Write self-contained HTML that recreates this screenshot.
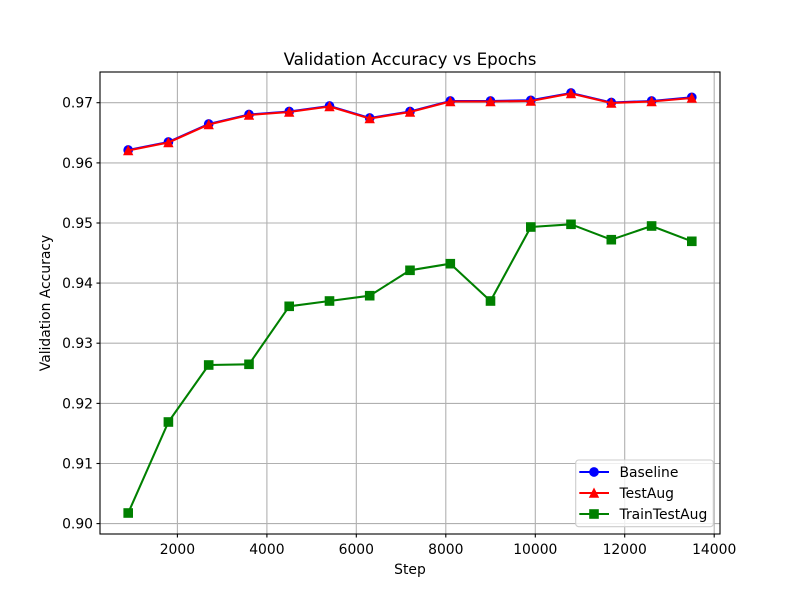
<!DOCTYPE html>
<html><head><meta charset="utf-8"><style>
html,body{margin:0;padding:0;background:#fff;}
svg{display:block;font-family:"DejaVu Sans","Liberation Sans",sans-serif;}
</style></head><body>
<svg width="800" height="600" viewBox="0 0 800 600" xmlns="http://www.w3.org/2000/svg">
<rect width="800" height="600" fill="#fff"/>
<!-- grid -->
<g stroke="#b0b0b0" stroke-width="1.1">
<line x1="177.4" y1="72" x2="177.4" y2="534"/>
<line x1="266.9" y1="72" x2="266.9" y2="534"/>
<line x1="356.3" y1="72" x2="356.3" y2="534"/>
<line x1="445.8" y1="72" x2="445.8" y2="534"/>
<line x1="535.3" y1="72" x2="535.3" y2="534"/>
<line x1="624.7" y1="72" x2="624.7" y2="534"/>
<line x1="714.2" y1="72" x2="714.2" y2="534"/>
<line x1="100" y1="523.6" x2="720" y2="523.6"/>
<line x1="100" y1="463.5" x2="720" y2="463.5"/>
<line x1="100" y1="403.4" x2="720" y2="403.4"/>
<line x1="100" y1="343.2" x2="720" y2="343.2"/>
<line x1="100" y1="283.1" x2="720" y2="283.1"/>
<line x1="100" y1="223" x2="720" y2="223"/>
<line x1="100" y1="162.9" x2="720" y2="162.9"/>
<line x1="100" y1="102.7" x2="720" y2="102.7"/>
</g>
<!-- ticks -->
<g stroke="#000" stroke-width="1.1">
<line x1="177.4" y1="534" x2="177.4" y2="537.5"/>
<line x1="266.9" y1="534" x2="266.9" y2="537.5"/>
<line x1="356.3" y1="534" x2="356.3" y2="537.5"/>
<line x1="445.8" y1="534" x2="445.8" y2="537.5"/>
<line x1="535.3" y1="534" x2="535.3" y2="537.5"/>
<line x1="624.7" y1="534" x2="624.7" y2="537.5"/>
<line x1="714.2" y1="534" x2="714.2" y2="537.5"/>
<line x1="96.5" y1="523.6" x2="100" y2="523.6"/>
<line x1="96.5" y1="463.5" x2="100" y2="463.5"/>
<line x1="96.5" y1="403.4" x2="100" y2="403.4"/>
<line x1="96.5" y1="343.2" x2="100" y2="343.2"/>
<line x1="96.5" y1="283.1" x2="100" y2="283.1"/>
<line x1="96.5" y1="223" x2="100" y2="223"/>
<line x1="96.5" y1="162.9" x2="100" y2="162.9"/>
<line x1="96.5" y1="102.7" x2="100" y2="102.7"/>
</g>
<g font-size="13.9" fill="#000" text-anchor="middle">
<text x="177.4" y="554">2000</text>
<text x="266.9" y="554">4000</text>
<text x="356.3" y="554">6000</text>
<text x="445.8" y="554">8000</text>
<text x="535.3" y="554">10000</text>
<text x="624.7" y="554">12000</text>
<text x="714.2" y="554">14000</text>
</g>
<g font-size="13.9" fill="#000" text-anchor="end">
<text x="93" y="528.6">0.90</text>
<text x="93" y="468.5">0.91</text>
<text x="93" y="408.4">0.92</text>
<text x="93" y="348.2">0.93</text>
<text x="93" y="288.1">0.94</text>
<text x="93" y="228">0.95</text>
<text x="93" y="167.9">0.96</text>
<text x="93" y="107.7">0.97</text>
</g>
<text x="410" y="574" font-size="13.9" text-anchor="middle">Step</text>
<text transform="translate(50,303) rotate(-90)" font-size="13.9" text-anchor="middle">Validation Accuracy</text>
<text x="410" y="65" font-size="16.7" text-anchor="middle">Validation Accuracy vs Epochs</text>

<!-- Baseline -->
<polyline fill="none" stroke="#0000ff" stroke-width="2.08" stroke-linejoin="round" points="128.2,150 168.4,142 208.7,124 249,114.5 289.2,111.5 329.5,106 369.7,118 410,111.5 450.3,101 490.5,101 530.8,100.3 571,93 611.3,102.5 651.6,101 691.8,97.3"/>
<g fill="#0000ff">
<circle cx="128.2" cy="150" r="4.85"/><circle cx="168.4" cy="142" r="4.85"/><circle cx="208.7" cy="124" r="4.85"/><circle cx="249" cy="114.5" r="4.85"/><circle cx="289.2" cy="111.5" r="4.85"/><circle cx="329.5" cy="106" r="4.85"/><circle cx="369.7" cy="118" r="4.85"/><circle cx="410" cy="111.5" r="4.85"/><circle cx="450.3" cy="101" r="4.85"/><circle cx="490.5" cy="101" r="4.85"/><circle cx="530.8" cy="100.3" r="4.85"/><circle cx="571" cy="93" r="4.85"/><circle cx="611.3" cy="102.5" r="4.85"/><circle cx="651.6" cy="101" r="4.85"/><circle cx="691.8" cy="97.3" r="4.85"/>
</g>
<!-- TestAug -->
<polyline fill="none" stroke="#ff0000" stroke-width="2.08" stroke-linejoin="round" points="128.2,150.5 168.4,142.5 208.7,124.5 249,115 289.2,112 329.5,106.5 369.7,118.5 410,112 450.3,101.5 490.5,101.5 530.8,101 571,93.5 611.3,103 651.6,101.5 691.8,98"/>
<g fill="#ff0000" stroke="#ff0000" stroke-width="1.2" stroke-linejoin="miter">
<path d="M128.2,146.3 L132.4,154.7 L124,154.7Z"/>
<path d="M168.4,138.3 L172.6,146.7 L164.2,146.7Z"/>
<path d="M208.7,120.3 L212.9,128.7 L204.5,128.7Z"/>
<path d="M249,110.8 L253.2,119.2 L244.8,119.2Z"/>
<path d="M289.2,107.8 L293.4,116.2 L285,116.2Z"/>
<path d="M329.5,102.3 L333.7,110.7 L325.3,110.7Z"/>
<path d="M369.7,114.3 L373.9,122.7 L365.5,122.7Z"/>
<path d="M410,107.8 L414.2,116.2 L405.8,116.2Z"/>
<path d="M450.3,97.3 L454.5,105.7 L446.1,105.7Z"/>
<path d="M490.5,97.3 L494.7,105.7 L486.3,105.7Z"/>
<path d="M530.8,96.8 L535,105.2 L526.6,105.2Z"/>
<path d="M571,89.3 L575.2,97.7 L566.8,97.7Z"/>
<path d="M611.3,98.8 L615.5,107.2 L607.1,107.2Z"/>
<path d="M651.6,97.3 L655.8,105.7 L647.4,105.7Z"/>
<path d="M691.8,93.8 L696,102.2 L687.6,102.2Z"/>
</g>
<!-- TrainTestAug -->
<polyline fill="none" stroke="#008000" stroke-width="2.08" stroke-linejoin="round" points="128.2,513 168.4,422 208.7,365 249,364.3 289.2,306.3 329.5,301 369.7,295.7 410,270.3 450.3,263.7 490.5,301 530.8,227 571,224.3 611.3,239.7 651.6,226 691.8,241.3"/>
<g fill="#008000">
<rect x="123.4" y="508.2" width="9.6" height="9.6"/>
<rect x="163.6" y="417.2" width="9.6" height="9.6"/>
<rect x="203.9" y="360.2" width="9.6" height="9.6"/>
<rect x="244.2" y="359.5" width="9.6" height="9.6"/>
<rect x="284.4" y="301.5" width="9.6" height="9.6"/>
<rect x="324.7" y="296.2" width="9.6" height="9.6"/>
<rect x="364.9" y="290.9" width="9.6" height="9.6"/>
<rect x="405.2" y="265.5" width="9.6" height="9.6"/>
<rect x="445.5" y="258.9" width="9.6" height="9.6"/>
<rect x="485.7" y="296.2" width="9.6" height="9.6"/>
<rect x="526" y="222.2" width="9.6" height="9.6"/>
<rect x="566.2" y="219.5" width="9.6" height="9.6"/>
<rect x="606.5" y="234.9" width="9.6" height="9.6"/>
<rect x="646.8" y="221.2" width="9.6" height="9.6"/>
<rect x="687" y="236.5" width="9.6" height="9.6"/>
</g>
<!-- axes frame -->
<rect x="100" y="72" width="620" height="462" fill="none" stroke="#000" stroke-width="1.1"/>
<!-- legend -->
<rect x="575.7" y="460" width="137.6" height="66.7" rx="3" fill="#fff" fill-opacity="0.8" stroke="#cccccc" stroke-width="1.1"/>
<line x1="579.3" y1="472" x2="609" y2="472" stroke="#0000ff" stroke-width="2.08"/>
<circle cx="594" cy="472" r="4.85" fill="#0000ff"/>
<line x1="579.3" y1="493" x2="609" y2="493" stroke="#ff0000" stroke-width="2.08"/>
<path d="M594,488.8 L598.2,497.2 L589.8,497.2Z" fill="#ff0000" stroke="#ff0000" stroke-width="1.2"/>
<line x1="579.3" y1="514" x2="609" y2="514" stroke="#008000" stroke-width="2.08"/>
<rect x="589.2" y="509.2" width="9.6" height="9.6" fill="#008000"/>
<g font-size="13.9" fill="#000">
<text x="619.5" y="477">Baseline</text>
<text x="619.5" y="498">TestAug</text>
<text x="619.5" y="519">TrainTestAug</text>
</g>
</svg>
</body></html>
